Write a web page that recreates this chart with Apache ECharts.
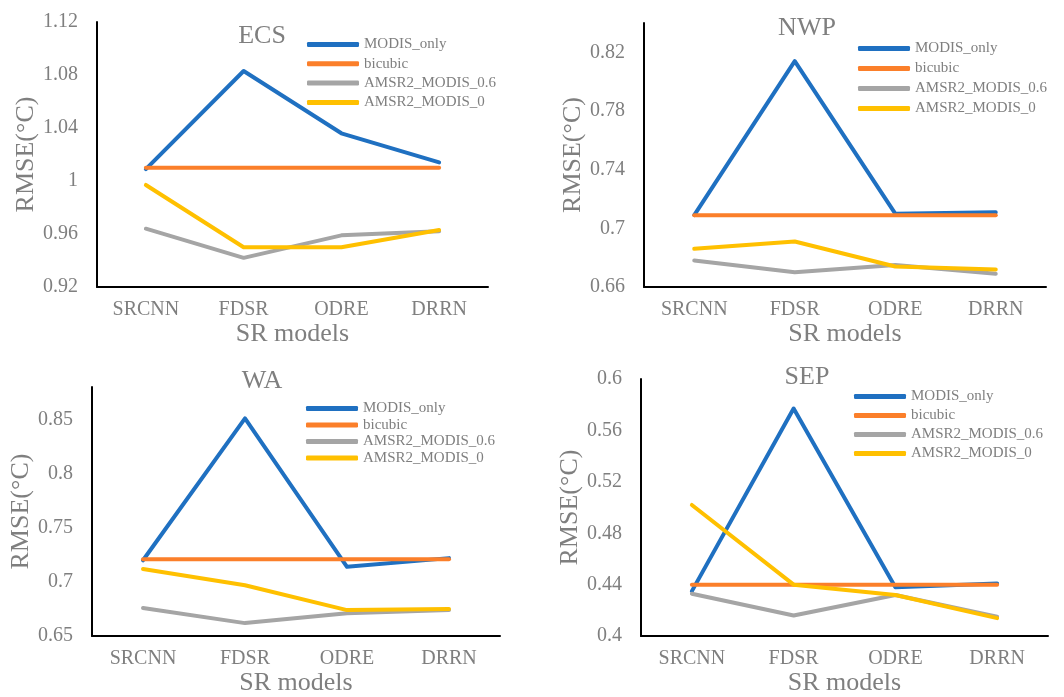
<!DOCTYPE html>
<html>
<head>
<meta charset="utf-8">
<script src="https://cdn.jsdelivr.net/npm/echarts@6/dist/echarts.min.js"></script>
<style>
  html, body { margin: 0; padding: 0; background: #fff; }
  #chart { width: 1064px; height: 697px; }
</style>
</head>
<body>
<div id="chart"></div>
<script>
// categories and series names
var models = ['SRCNN', 'FDSR', 'ODRE', 'DRRN'];
var seriesNames = ['MODIS_only', 'bicubic', 'AMSR2_MODIS_0.6', 'AMSR2_MODIS_0'];

// ECS
var ecsModisOnly = [1.009, 1.083, 1.036, 1.014];
var ecsBicubic = [1.010, 1.010, 1.010, 1.010];
var ecsAmsr06 = [0.964, 0.942, 0.959, 0.962];
var ecsAmsr0 = [0.997, 0.950, 0.950, 0.963];
// NWP
var nwpModisOnly = [0.709, 0.814, 0.710, 0.711];
var nwpBicubic = [0.709, 0.709, 0.709, 0.709];
var nwpAmsr06 = [0.678, 0.670, 0.675, 0.669];
var nwpAmsr0 = [0.686, 0.691, 0.674, 0.672];
// WA
var waModisOnly = [0.720, 0.851, 0.714, 0.722];
var waBicubic = [0.721, 0.721, 0.721, 0.721];
var waAmsr06 = [0.676, 0.662, 0.671, 0.674];
var waAmsr0 = [0.712, 0.697, 0.674, 0.675];
// SEP
var sepModisOnly = [0.435, 0.577, 0.438, 0.441];
var sepBicubic = [0.440, 0.440, 0.440, 0.440];
var sepAmsr06 = [0.433, 0.416, 0.432, 0.415];
var sepAmsr0 = [0.502, 0.440, 0.432, 0.414];

// y axis ticks: [min, max, interval]
var ecsTicks = [0.92, 1.12, 0.04];
var nwpTicks = [0.66, 0.84, 0.04];
var waTicks = [0.65, 0.88, 0.05];
var sepTicks = [0.40, 0.60, 0.04];

var colors = ['#1f70c1', '#fb7f2a', '#a5a5a5', '#ffc000'];
var font = 'Liberation Serif';
var textGray = '#7f7f7f';

var panels = [
  { title: 'ECS', data: [ecsModisOnly, ecsBicubic, ecsAmsr06, ecsAmsr0], ticks: ecsTicks,
    grid: { left: 97, top: 22, width: 391, height: 265 }, titlePos: [262, 23],
    legend: { left: 307, top: 37, gap: 4.3 }, nameGap: 58, showMax: true },
  { title: 'NWP', data: [nwpModisOnly, nwpBicubic, nwpAmsr06, nwpAmsr0], ticks: nwpTicks,
    grid: { left: 644, top: 23, width: 402, height: 264 }, titlePos: [807, 15],
    legend: { left: 858, top: 41, gap: 5 }, nameGap: 57, showMax: false },
  { title: 'WA', data: [waModisOnly, waBicubic, waAmsr06, waAmsr0], ticks: waTicks,
    grid: { left: 92, top: 387, width: 408, height: 250 }, titlePos: [262, 368],
    legend: { left: 306, top: 401, gap: 1.5 }, nameGap: 51, showMax: false },
  { title: 'SEP', data: [sepModisOnly, sepBicubic, sepAmsr06, sepAmsr0], ticks: sepTicks,
    grid: { left: 641, top: 379, width: 407, height: 259 }, titlePos: [807, 364],
    legend: { left: 854, top: 389, gap: 4 }, nameGap: 53, showMax: true }
];

var option = {
  animation: false,
  backgroundColor: '#fff',
  title: [], grid: [], xAxis: [], yAxis: [], legend: [], series: []
};

panels.forEach(function (p, i) {
  option.title.push({
    text: p.title, left: p.titlePos[0], top: p.titlePos[1], textAlign: 'center', padding: 0,
    textStyle: { fontFamily: font, fontSize: 26, fontWeight: 'normal', color: textGray }
  });
  option.grid.push(p.grid);
  option.xAxis.push({
    type: 'category', gridIndex: i, data: models, boundaryGap: true,
    name: 'SR models', nameLocation: 'middle', nameGap: 31,
    nameTextStyle: { fontFamily: font, fontSize: 26, color: textGray },
    axisLine: { lineStyle: { color: '#000', width: 2 } },
    axisTick: { show: false },
    axisLabel: { fontFamily: font, fontSize: 20, color: textGray, margin: 13 },
    splitLine: { show: false }
  });
  option.yAxis.push({
    type: 'value', gridIndex: i, min: p.ticks[0], max: p.ticks[1], interval: p.ticks[2],
    name: 'RMSE(°C)', nameLocation: 'middle', nameGap: p.nameGap,
    nameTextStyle: { fontFamily: font, fontSize: 26, color: textGray },
    axisLine: { show: true, lineStyle: { color: '#000', width: 2 } },
    axisTick: { show: false },
    axisLabel: { fontFamily: font, fontSize: 20, color: textGray, margin: 19, showMaxLabel: p.showMax },
    splitLine: { show: false }
  });
  option.legend.push({
    orient: 'vertical', left: p.legend.left, top: p.legend.top, padding: 0,
    itemGap: p.legend.gap, itemWidth: 52, itemHeight: 5, icon: 'roundRect',
    data: seriesNames,
    textStyle: { fontFamily: font, fontSize: 15, color: textGray }
  });
  p.data.forEach(function (vals, k) {
    option.series.push({
      name: seriesNames[k], type: 'line', xAxisIndex: i, yAxisIndex: i,
      data: vals, showSymbol: false, symbol: 'none', color: colors[k],
      lineStyle: { width: 4, color: colors[k], cap: 'round', join: 'round' }
    });
  });
});

var chart = echarts.init(document.getElementById('chart'));
chart.setOption(option);
</script>
</body>
</html>
